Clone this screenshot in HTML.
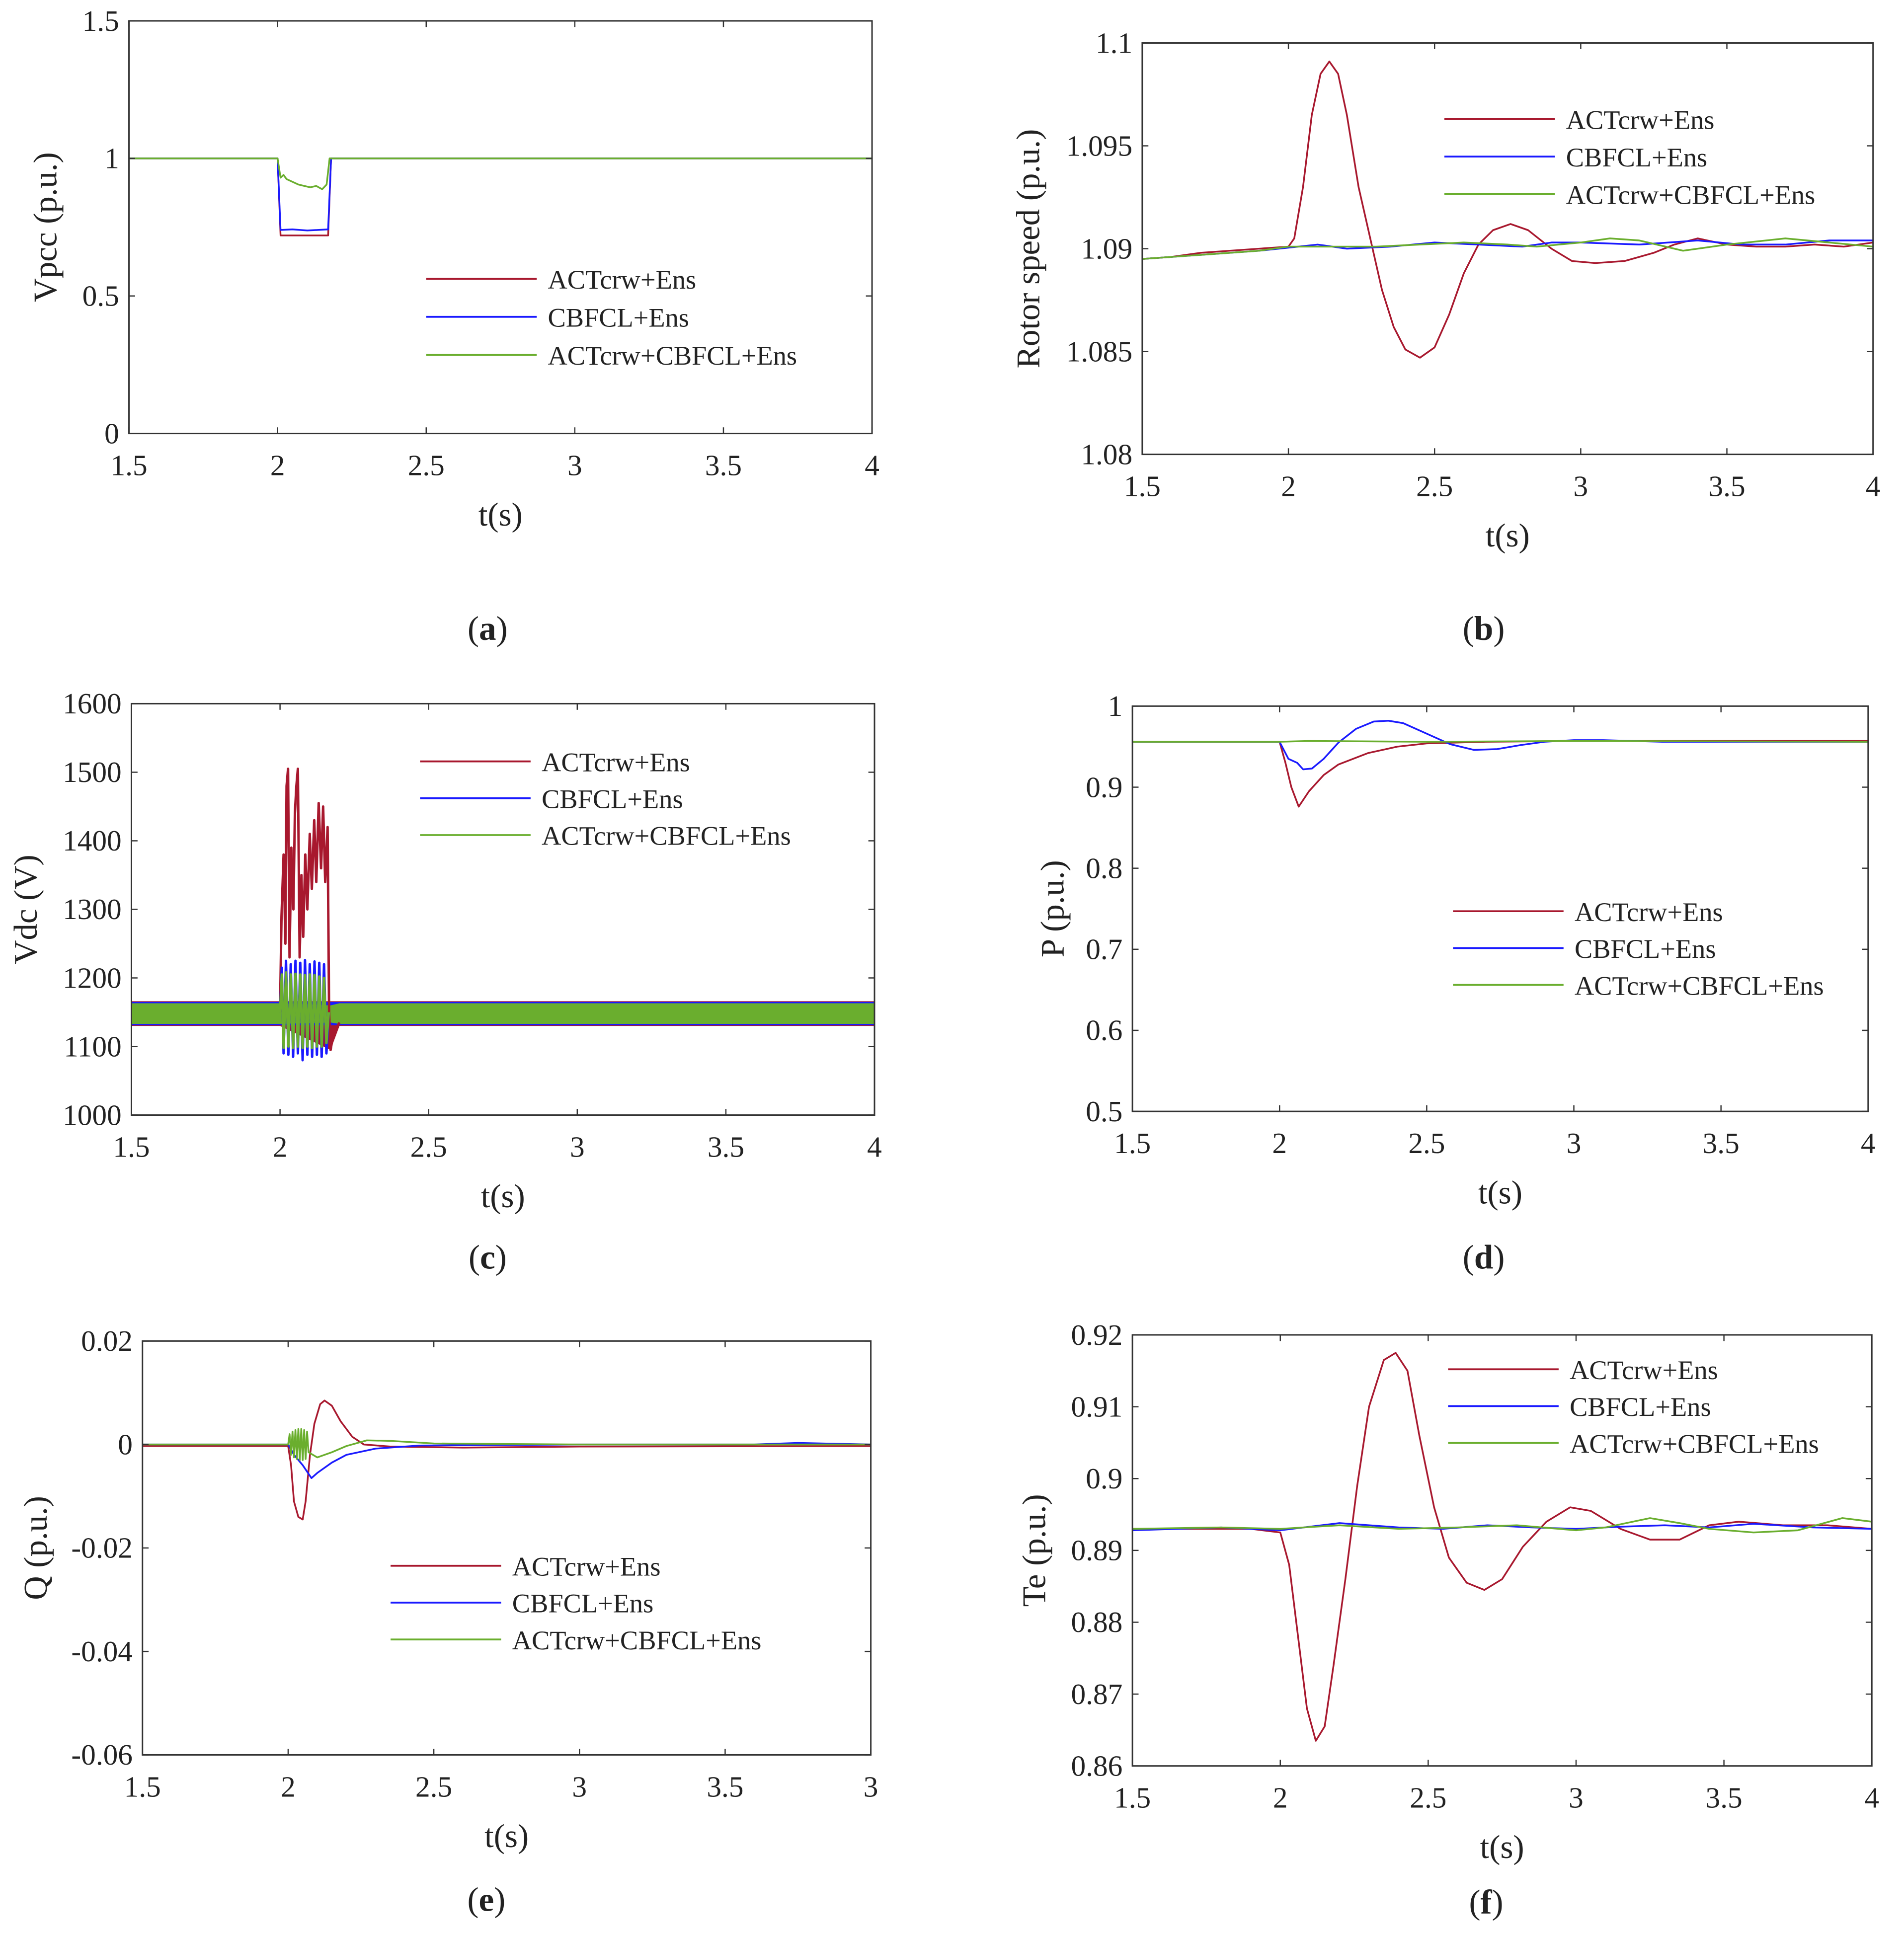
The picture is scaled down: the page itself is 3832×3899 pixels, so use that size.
<!DOCTYPE html>
<html><head><meta charset="utf-8"><style>
html,body{margin:0;padding:0;background:#fff;}
svg{display:block;}
text{font-family:"Liberation Serif",serif;fill:#222;}
</style></head><body>
<svg id="fig" width="3832" height="3899" viewBox="0 0 1550.2 1577.3" preserveAspectRatio="none" xmlns="http://www.w3.org/2000/svg"></svg>
<script>
// ---- shared ----
const xTicks = [1.5, 2, 2.5, 3, 3.5, 4];
const xTickLabels = ["1.5", "2", "2.5", "3", "3.5", "4"];
const xTickLabelsE = ["1.5", "2", "2.5", "3", "3.5", "3"];
const legendNames = ["ACTcrw+Ens", "CBFCL+Ens", "ACTcrw+CBFCL+Ens"];
const colors = ["#a8182e", "#1a1aff", "#6aae2e"];

// ---- (a) Vpcc ----
const aYTicks = [0, 0.5, 1, 1.5];
const aYTickLabels = ["0", "0.5", "1", "1.5"];
const aRed = [[1.5,1.0],[2.0,1.0],[2.01,0.72],[2.17,0.72],[2.18,1.0],[4,1.0]];
const aBlue = [[1.5,1.0],[2.0,1.0],[2.01,0.74],[2.05,0.742],[2.1,0.738],[2.17,0.742],[2.18,1.0],[4,1.0]];
const aGreen = [[1.5,1.0],[2.0,1.0],[2.01,0.93],[2.02,0.94],[2.03,0.925],[2.05,0.915],[2.07,0.905],[2.09,0.9],[2.11,0.895],[2.13,0.9],[2.15,0.888],[2.165,0.905],[2.175,1.0],[4,1.0]];

// ---- (b) Rotor speed ----
const bYTicks = [1.08, 1.085, 1.09, 1.095, 1.1];
const bYTickLabels = ["1.08", "1.085", "1.09", "1.095", "1.1"];
const bRed = [[1.5,1.0895],[1.6,1.0896],[1.7,1.0898],[1.8,1.0899],[1.9,1.09],[2.0,1.0901],[2.02,1.0905],[2.05,1.093],[2.08,1.0965],[2.11,1.0985],[2.14,1.0991],[2.17,1.0985],[2.2,1.0965],[2.24,1.093],[2.28,1.0905],[2.32,1.088],[2.36,1.0862],[2.4,1.0851],[2.45,1.0847],[2.5,1.0852],[2.55,1.0868],[2.6,1.0888],[2.65,1.0902],[2.7,1.0909],[2.76,1.0912],[2.82,1.0909],[2.9,1.09],[2.97,1.0894],[3.05,1.0893],[3.15,1.0894],[3.25,1.0898],[3.32,1.0902],[3.4,1.0905],[3.5,1.0902],[3.6,1.0901],[3.7,1.0901],[3.8,1.0902],[3.9,1.0901],[4.0,1.0903]];
const bBlue = [[1.5,1.0895],[1.7,1.0897],[1.9,1.0899],[2.1,1.0902],[2.2,1.09],[2.35,1.0901],[2.5,1.0903],[2.65,1.0902],[2.8,1.0901],[2.9,1.0903],[3.0,1.0903],[3.2,1.0902],[3.4,1.0904],[3.55,1.0902],[3.7,1.0902],[3.85,1.0904],[4.0,1.0904]];
const bGreen = [[1.5,1.0895],[1.7,1.0897],[1.9,1.0899],[2.0,1.0901],[2.15,1.0901],[2.3,1.0901],[2.45,1.0902],[2.6,1.0903],[2.75,1.0902],[2.85,1.0901],[3.0,1.0903],[3.1,1.0905],[3.2,1.0904],[3.35,1.0899],[3.5,1.0902],[3.7,1.0905],[3.85,1.0903],[4.0,1.0901]];

// ---- (c) Vdc ----
const cYTicks = [1000, 1100, 1200, 1300, 1400, 1500, 1600];
const cYTickLabels = ["1000", "1100", "1200", "1300", "1400", "1500", "1600"];
const cBandT = [1.5, 2.0, 2.17, 2.2, 4.0];
const cRedUpper = [1166, 1166, 1166, 1166, 1166];
const cRedLower = [1130, 1130, 1095, 1130, 1130];
const cBlueUpper = [1165, 1165, 1165, 1165, 1165];
const cBlueLower = [1131, 1131, 1131, 1131, 1131];
const cGreenUpper = [1163, 1163, 1160, 1163, 1163];
const cGreenLower = [1133, 1133, 1135, 1133, 1133];
const cRedSpike = [[2.0,1150],[2.005,1290],[2.012,1380],[2.018,1250],[2.022,1480],[2.027,1505],[2.032,1230],[2.038,1390],[2.045,1300],[2.05,1440],[2.055,1480],[2.06,1505],[2.066,1230],[2.072,1350],[2.078,1260],[2.085,1380],[2.092,1300],[2.1,1410],[2.107,1330],[2.115,1430],[2.122,1340],[2.13,1455],[2.138,1360],[2.145,1450],[2.152,1340],[2.16,1420],[2.165,1150],[2.17,1095],[2.18,1120],[2.2,1135]];
const cBlueSpike = [[2.0,1150],[2.006,1215],[2.012,1090],[2.02,1225],[2.028,1088],[2.036,1220],[2.044,1085],[2.052,1225],[2.06,1090],[2.068,1222],[2.076,1080],[2.084,1226],[2.092,1088],[2.1,1220],[2.108,1085],[2.116,1224],[2.124,1088],[2.132,1222],[2.14,1085],[2.148,1220],[2.156,1090],[2.164,1150]];
const cGreenSpike = [[2.0,1150],[2.006,1205],[2.012,1098],[2.02,1208],[2.028,1100],[2.036,1205],[2.044,1098],[2.052,1206],[2.06,1100],[2.068,1205],[2.076,1098],[2.084,1204],[2.092,1100],[2.1,1205],[2.108,1098],[2.116,1204],[2.124,1100],[2.132,1202],[2.14,1100],[2.148,1200],[2.156,1105],[2.164,1150]];

// ---- (d) P ----
const dYTicks = [0.5, 0.6, 0.7, 0.8, 0.9, 1];
const dYTickLabels = ["0.5", "0.6", "0.7", "0.8", "0.9", "1"];
const dRed = [[1.5,0.956],[2.0,0.956],[2.02,0.93],[2.04,0.9],[2.065,0.876],[2.1,0.895],[2.15,0.915],[2.2,0.928],[2.3,0.942],[2.4,0.95],[2.5,0.954],[2.7,0.956],[3.0,0.957],[3.5,0.957],[4.0,0.957]];
const dBlue = [[1.5,0.956],[2.0,0.956],[2.03,0.935],[2.06,0.93],[2.08,0.922],[2.11,0.923],[2.15,0.935],[2.2,0.955],[2.26,0.972],[2.32,0.981],[2.37,0.982],[2.42,0.979],[2.5,0.966],[2.58,0.953],[2.66,0.946],[2.74,0.947],[2.82,0.952],[2.9,0.956],[3.0,0.958],[3.1,0.958],[3.3,0.956],[3.6,0.956],[4.0,0.956]];
const dGreen = [[1.5,0.956],[2.0,0.956],[2.1,0.957],[2.5,0.956],[3.0,0.957],[4.0,0.956]];

// ---- (e) Q ----
const eYTicks = [-0.06, -0.04, -0.02, 0, 0.02];
const eYTickLabels = ["-0.06", "-0.04", "-0.02", "0", "0.02"];
const eRed = [[1.5,-0.0003],[2.0,-0.0003],[2.01,-0.004],[2.02,-0.011],[2.035,-0.014],[2.05,-0.0145],[2.06,-0.011],[2.075,-0.002],[2.09,0.004],[2.11,0.0078],[2.125,0.0085],[2.15,0.0075],[2.18,0.0045],[2.22,0.0015],[2.26,0.0],[2.35,-0.0004],[2.6,-0.0006],[3.0,-0.0004],[4.0,-0.0003]];
const eBlue = [[1.5,0.0],[2.0,0.0],[2.02,-0.002],[2.05,-0.004],[2.08,-0.0065],[2.1,-0.0055],[2.15,-0.0035],[2.2,-0.002],[2.3,-0.0008],[2.45,-0.0002],[3.0,0.0],[3.6,0.0],[3.75,0.0003],[4.0,0.0]];
const eGreen = [[1.5,0.0],[2.0,0.0],[2.005,0.002],[2.01,-0.002],[2.015,0.0025],[2.02,-0.0025],[2.025,0.0028],[2.03,-0.0028],[2.035,0.003],[2.04,-0.003],[2.045,0.003],[2.05,-0.003],[2.055,0.0028],[2.06,-0.0028],[2.065,0.0025],[2.07,-0.0015],[2.1,-0.0025],[2.15,-0.0015],[2.2,-0.0003],[2.27,0.0008],[2.35,0.0007],[2.5,0.0002],[3.0,0.0],[4.0,0.0]];

// ---- (f) Te ----
const fYTicks = [0.86, 0.87, 0.88, 0.89, 0.9, 0.91, 0.92];
const fYTickLabels = ["0.86", "0.87", "0.88", "0.89", "0.9", "0.91", "0.92"];
const fRed = [[1.5,0.893],[1.9,0.893],[2.0,0.8925],[2.03,0.888],[2.06,0.878],[2.09,0.868],[2.12,0.8635],[2.15,0.8655],[2.18,0.874],[2.22,0.886],[2.26,0.899],[2.3,0.91],[2.35,0.9165],[2.39,0.9175],[2.43,0.915],[2.47,0.906],[2.52,0.896],[2.57,0.889],[2.63,0.8855],[2.69,0.8845],[2.75,0.886],[2.82,0.8905],[2.9,0.894],[2.98,0.896],[3.05,0.8955],[3.15,0.893],[3.25,0.8915],[3.35,0.8915],[3.45,0.8935],[3.55,0.894],[3.7,0.8935],[3.85,0.8935],[4.0,0.893]];
const fBlue = [[1.5,0.8928],[1.8,0.8932],[2.0,0.8928],[2.2,0.8938],[2.4,0.8932],[2.55,0.893],[2.7,0.8935],[2.85,0.8932],[3.0,0.893],[3.15,0.8933],[3.3,0.8935],[3.45,0.8932],[3.6,0.8937],[3.8,0.8932],[4.0,0.893]];
const fGreen = [[1.5,0.893],[1.8,0.8932],[2.0,0.893],[2.2,0.8935],[2.4,0.893],[2.6,0.8932],[2.8,0.8935],[3.0,0.8928],[3.1,0.8932],[3.25,0.8945],[3.35,0.8938],[3.45,0.893],[3.6,0.8925],[3.75,0.8928],[3.9,0.8945],[4.0,0.894]];

const NS = "http://www.w3.org/2000/svg";
const fig = document.getElementById("fig");
function mk(tag, attrs, parent) {
  const e = document.createElementNS(NS, tag);
  for (const k in attrs) e.setAttribute(k, attrs[k]);
  (parent || fig).appendChild(e);
  return e;
}

function chart(cfg) {
  const g = mk("g", {});
  
  
  const sx = t => cfg.x0 + (t - 1.5) / 2.5 * (cfg.x1 - cfg.x0);
  const sy = v => cfg.y1 - (v - cfg.ymin) / (cfg.ymax - cfg.ymin) * (cfg.y1 - cfg.y0);
  const clip = "clip-" + cfg.name;
  const cp = mk("clipPath", {id: clip}, g);
  mk("rect", {x: cfg.x0, y: cfg.y0, width: cfg.x1 - cfg.x0, height: cfg.y1 - cfg.y0}, cp);
  const plot = mk("g", {"clip-path": "url(#" + clip + ")"}, g);
  (cfg.bands || []).forEach((b, i) => {
    let pts = [];
    b.t.forEach((t, j) => pts.push(sx(t) + "," + sy(b.up[j])));
    for (let j = b.t.length - 1; j >= 0; j--) pts.push(sx(b.t[j]) + "," + sy(b.lo[j]));
    const p = mk("polygon", {points: pts.join(" "), fill: b.color}, plot);
    
    
  });
  cfg.series.forEach((s, i) => {
    const pts = s.data.map(d => sx(d[0]).toFixed(2) + "," + sy(d[1]).toFixed(2)).join(" ");
    const p = mk("polyline", {points: pts, fill: "none", stroke: s.color, "stroke-width": s.w || 1.4, "stroke-linejoin": "round"}, plot);
    
    
  });
  const box = mk("rect", {x: cfg.x0, y: cfg.y0, width: cfg.x1 - cfg.x0, height: cfg.y1 - cfg.y0, fill: "none", stroke: "#333", "stroke-width": 1.2}, g);
  
  
  const tl = 5;
  xTicks.forEach((t, i) => {
    const x = sx(t);
    mk("line", {x1: x, x2: x, y1: cfg.y1, y2: cfg.y1 - tl, stroke: "#333", "stroke-width": 1}, g);
    mk("line", {x1: x, x2: x, y1: cfg.y0, y2: cfg.y0 + tl, stroke: "#333", "stroke-width": 1}, g);
    const tx = mk("text", {x: x, y: cfg.y1 + 34, "text-anchor": "middle", "font-size": 24}, g);
    tx.textContent = cfg.xLabels[i];
    
    
  });
  cfg.yTicks.forEach((v, i) => {
    const y = sy(v);
    mk("line", {x1: cfg.x0, x2: cfg.x0 + tl, y1: y, y2: y, stroke: "#333", "stroke-width": 1}, g);
    mk("line", {x1: cfg.x1, x2: cfg.x1 - tl, y1: y, y2: y, stroke: "#333", "stroke-width": 1}, g);
    const tx = mk("text", {x: cfg.x0 - 8, y: y + 8, "text-anchor": "end", "font-size": 24}, g);
    tx.textContent = cfg.yLabels[i];
    
    
  });
  const xt = mk("text", {x: (cfg.x0 + cfg.x1) / 2, y: cfg.y1 + 75, "text-anchor": "middle", "font-size": 27}, g);
  xt.textContent = "t(s)";
  
  
  const yt = mk("text", {x: 0, y: 0, "text-anchor": "middle", "font-size": 27, transform: "translate(" + cfg.ylx + "," + ((cfg.y0 + cfg.y1) / 2) + ") rotate(-90)"}, g);
  yt.textContent = cfg.ytitle;
  
  
  const cap = mk("text", {x: cfg.capx, y: cfg.capy, "text-anchor": "middle", "font-size": 28}, g);
  cap.innerHTML = '(<tspan font-weight="bold">' + cfg.cap + '</tspan>)';
  
  
  legendNames.forEach((n, i) => {
    const y = cfg.leg.y + i * cfg.leg.dy;
    const ln = mk("line", {x1: cfg.leg.x, x2: cfg.leg.x + 90, y1: y, y2: y, stroke: colors[i], "stroke-width": 1.5}, g);
    
    
    const t = mk("text", {x: cfg.leg.x + 99, y: y + 8, "font-size": 22}, g);
    t.textContent = n;
    
    
  });
}

const ser = (r, b, gr) => [{data: r, color: colors[0], label: "series-actcrw"}, {data: b, color: colors[1], label: "series-cbfcl"}, {data: gr, color: colors[2], label: "series-actcrw-cbfcl"}];

chart({name: "chart-a-vpcc", x0: 105, x1: 710, y0: 17, y1: 353, ymin: 0, ymax: 1.5, yTicks: aYTicks, yLabels: aYTickLabels, xLabels: xTickLabels,
  ytitle: "Vpcc (p.u.)", ylx: 46, cap: "a", capx: 397, capy: 521, leg: {x: 347, y: 227, dy: 31}, series: ser(aRed, aBlue, aGreen)});
chart({name: "chart-b-rotor-speed", x0: 930, x1: 1525, y0: 35, y1: 370, ymin: 1.08, ymax: 1.1, yTicks: bYTicks, yLabels: bYTickLabels, xLabels: xTickLabels,
  ytitle: "Rotor speed (p.u.)", ylx: 846, cap: "b", capx: 1208, capy: 521, leg: {x: 1176, y: 97, dy: 30.5}, series: ser(bRed, bBlue, bGreen)});
chart({name: "chart-c-vdc", x0: 107, x1: 712, y0: 573, y1: 908, ymin: 1000, ymax: 1600, yTicks: cYTicks, yLabels: cYTickLabels, xLabels: xTickLabels,
  ytitle: "Vdc (V)", ylx: 30, cap: "c", capx: 397, capy: 1033, leg: {x: 342, y: 620, dy: 30},
  bands: [{t: cBandT, up: cRedUpper, lo: cRedLower, color: colors[0]}, {t: cBandT, up: cBlueUpper, lo: cBlueLower, color: colors[1]}, {t: cBandT, up: cGreenUpper, lo: cGreenLower, color: colors[2]}],
  series: [{data: cRedSpike, color: colors[0], label: "series-actcrw", w: 2}, {data: cBlueSpike, color: colors[1], label: "series-cbfcl", w: 2}, {data: cGreenSpike, color: colors[2], label: "series-actcrw-cbfcl", w: 2}]});
chart({name: "chart-d-p", x0: 922, x1: 1521, y0: 575, y1: 905, ymin: 0.5, ymax: 1, yTicks: dYTicks, yLabels: dYTickLabels, xLabels: xTickLabels,
  ytitle: "P (p.u.)", ylx: 866, cap: "d", capx: 1208, capy: 1033, leg: {x: 1183, y: 742, dy: 30}, series: ser(dRed, dBlue, dGreen)});
chart({name: "chart-e-q", x0: 116, x1: 709, y0: 1092, y1: 1429, ymin: -0.06, ymax: 0.02, yTicks: eYTicks, yLabels: eYTickLabels, xLabels: xTickLabelsE,
  ytitle: "Q (p.u.)", ylx: 38, cap: "e", capx: 396, capy: 1556, leg: {x: 318, y: 1275, dy: 30}, series: ser(eRed, eBlue, eGreen)});
chart({name: "chart-f-te", x0: 922, x1: 1524, y0: 1087, y1: 1438, ymin: 0.86, ymax: 0.92, yTicks: fYTicks, yLabels: fYTickLabels, xLabels: xTickLabels,
  ytitle: "Te (p.u.)", ylx: 851, cap: "f", capx: 1210, capy: 1558, leg: {x: 1179, y: 1115, dy: 30}, series: ser(fRed, fBlue, fGreen)});
</script>
</body></html>
